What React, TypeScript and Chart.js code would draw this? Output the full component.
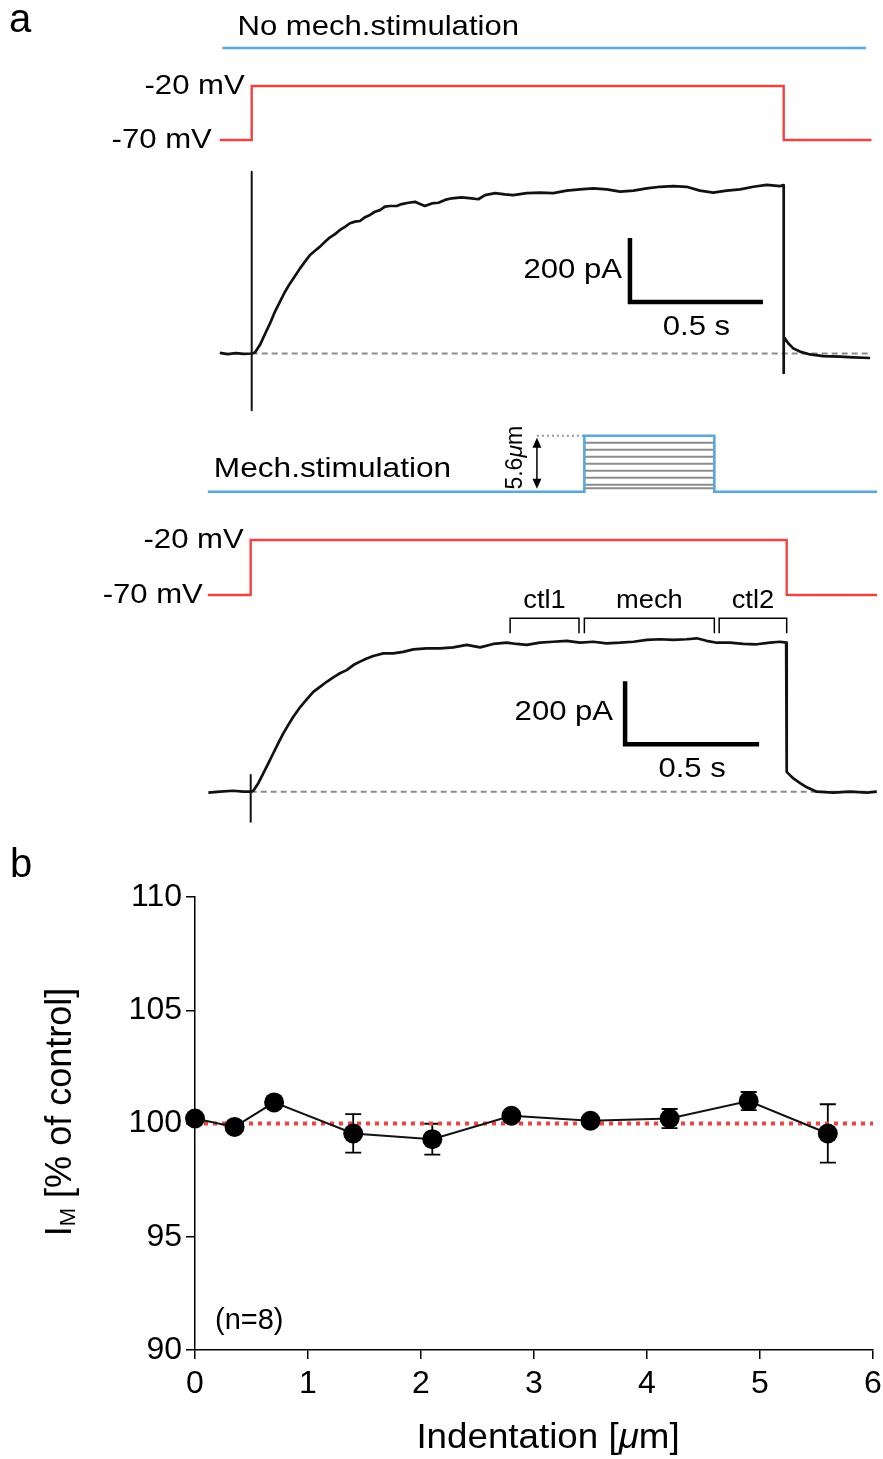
import React, { useEffect, useRef } from 'react';
import { Chart, registerables } from 'chart.js';

Chart.register(...registerables);

const FONT = '"Liberation Sans", Arial, Helvetica, sans-serif';
const BLACK = '#111111';
const RED = '#f0433f';
const BLUE = '#5aa6df';
const GRAY = '#8c8c8c';

// ---------- Panel a, top: no mechanical stimulation ----------
const topStimTime = [-0.11, 2.31];
const topStimValue = [0, 0];
const topVoltTime = [-0.12, 0, 0, 2.0, 2.0, 2.33];
const topVoltValue = [-70, -70, -20, -20, -70, -70];
const topCurTime = [-0.12, -0.09, -0.06, -0.03, 0, 0.0124, 0.0312, 0.05, 0.0688, 0.0876, 0.1064, 0.1252, 0.144, 0.1628, 0.1816, 0.2004, 0.2192, 0.238, 0.2568, 0.2756, 0.2944, 0.3132, 0.332, 0.3508, 0.3695, 0.3883, 0.4071, 0.4259, 0.4447, 0.4635, 0.4823, 0.5011, 0.52, 0.545, 0.564, 0.589, 0.614, 0.633, 0.651, 0.677, 0.702, 0.727, 0.752, 0.789, 0.827, 0.852, 0.877, 0.915, 0.952, 0.983, 1.034, 1.084, 1.134, 1.184, 1.234, 1.284, 1.335, 1.385, 1.435, 1.485, 1.535, 1.585, 1.635, 1.685, 1.735, 1.786, 1.836, 1.886, 1.936, 1.986, 2.0, 2.0, 2.0, 2.017, 2.036, 2.061, 2.099, 2.149, 2.212, 2.262, 2.325];
const topCurValue = [2, -2, 1, -1, 0, 3, 27, 61, 94, 131, 162, 193, 219, 242, 266, 287, 308, 321, 334, 349, 363, 373, 386, 396, 407, 412, 414, 426, 433, 443, 448, 459, 461, 461, 467, 471, 474, 467, 461, 469, 471, 480, 485, 488, 485, 482, 495, 501, 497, 495, 501, 503, 501, 509, 513, 516, 513, 506, 509, 516, 521, 523, 521, 509, 503, 509, 513, 521, 527, 523, 526, -61, 52, 32, 16, 6, -3, -8, -10, -12, -14];
const topTransientTime = [0, 0];
const topTransientValue = [568, -177];
const topBaselineTime = [0, 2.325];

// ---------- Panel a, bottom: mechanical stimulation ----------
const indentation = [0, 0.35, 0.7, 1.4, 2.1, 2.8, 3.5, 4.2, 4.9, 5.6];
const mechOn = 1.245;
const mechOff = 1.73;
const mechMax = 5.6;
const botStimTime = [-0.16, mechOn, mechOn, mechOff, mechOff, 2.337];
const botStimValue = [0, 0, mechMax, mechMax, 0, 0];
const botVoltTime = [-0.16, 0, 0, 2.0, 2.0, 2.337];
const botVoltValue = [-70, -70, -20, -20, -70, -70];
const botCurTime = [-0.158, -0.115, -0.065, -0.028, 0, 0.0097, 0.0284, 0.047, 0.0657, 0.0843, 0.103, 0.1217, 0.1403, 0.159, 0.184, 0.209, 0.2336, 0.2586, 0.2836, 0.3082, 0.333, 0.358, 0.383, 0.408, 0.433, 0.4575, 0.495, 0.532, 0.569, 0.607, 0.657, 0.706, 0.756, 0.806, 0.856, 0.905, 0.955, 0.9925, 1.03, 1.079, 1.129, 1.179, 1.229, 1.278, 1.328, 1.378, 1.428, 1.478, 1.528, 1.577, 1.627, 1.664, 1.701, 1.739, 1.788, 1.838, 1.888, 1.938, 1.975, 1.998, 2.0, 2.025, 2.05, 2.075, 2.112, 2.174, 2.236, 2.299, 2.336];
const botCurValue = [-3, 0, 3, 0, 0, 3, 27, 58, 90, 122, 154, 185, 212, 238, 268, 293, 317, 333, 349, 363, 376, 386, 402, 413, 423, 431, 439, 439, 444, 452, 455, 455, 458, 466, 458, 469, 473, 469, 466, 473, 476, 479, 473, 476, 471, 473, 476, 482, 484, 482, 484, 487, 479, 473, 473, 469, 468, 473, 476, 473, 63, 42, 27, 14, 0, -3, 0, -3, 0];
const botTransientTime = [0, 0];
const botTransientValue = [53, -95];
const botBaselineTime = [0, 2.337];
const bracketLabels = ['ctl1', 'mech', 'ctl2'];
const bracketStart = [0.968, 1.245, 1.748];
const bracketEnd = [1.225, 1.73, 2.0];

// scale bars
const scaleBarTime = 0.5; // s
const scaleBarCurrent = 200; // pA

// ---------- Panel b ----------
const currentPct = [100.22, 99.85, 100.93, 99.56, 99.31, 100.34, 100.12, 100.22, 100.99, 99.56];
const semPct = [0.2, 0.15, 0.2, 0.85, 0.68, 0.2, 0.15, 0.42, 0.4, 1.29];
const yTicks = [90, 95, 100, 105, 110];
const xTicks = [0, 1, 2, 3, 4, 5, 6];
const controlLevel = 100;

// ---------- layout (pixels) ----------
const TOP = { top: 0, height: 420, t0px: 251.7, pxPerS: 266, sZero: 48, pxPerUm: 10, vRef: 86, pxPerMv: 1.08, iZero: 353.5, pxPerPa: 0.32, barT: 1.422, barI: 161 };
const BOT = { top: 410, height: 430, t0px: 250.7, pxPerS: 268, sZero: 81.7, pxPerUm: 10, vRef: 130, pxPerMv: 1.1, iZero: 381.7, pxPerPa: 0.315, barT: 1.397, barI: 151 };
const W = 883;

function pts(xs: number[], ys: number[]) {
  return xs.map((x, i) => ({ x, y: ys[i] }));
}

function yRange(zeroPx: number, zeroVal: number, pxPerUnit: number, height: number) {
  return { min: zeroVal - (height - zeroPx) / pxPerUnit, max: zeroVal + zeroPx / pxPerUnit };
}

type Run = { s: string; size: number; italic?: boolean; dy?: number };

function drawRuns(ctx: CanvasRenderingContext2D, runs: Run[], x: number, y: number, opt: { align?: string; baseline?: CanvasTextBaseline; sx?: number; rotate?: number; color?: string } = {}) {
  const { align = 'left', baseline = 'alphabetic', sx = 1, rotate = 0, color = '#000' } = opt;
  ctx.save();
  ctx.translate(x, y);
  if (rotate) ctx.rotate(rotate);
  ctx.scale(sx, 1);
  ctx.fillStyle = color;
  ctx.textBaseline = baseline;
  ctx.textAlign = 'left';
  let total = 0;
  const widths = runs.map((r) => {
    ctx.font = `${r.italic ? 'italic ' : ''}${r.size}px ${FONT}`;
    const w = ctx.measureText(r.s).width;
    total += w;
    return w;
  });
  let cx = align === 'center' ? -total / 2 : align === 'right' ? -total : 0;
  runs.forEach((r, i) => {
    ctx.font = `${r.italic ? 'italic ' : ''}${r.size}px ${FONT}`;
    ctx.fillText(r.s, cx, r.dy || 0);
    cx += widths[i];
  });
  ctx.restore();
}

function txt(ctx: CanvasRenderingContext2D, s: string, x: number, y: number, size: number, opt: any = {}) {
  drawRuns(ctx, [{ s, size, italic: opt.italic }], x, y, opt);
}

function lineDs(data: any[], yAxisID: string, color: string, width: number, extra: any = {}) {
  return {
    data,
    yAxisID,
    showLine: true,
    borderColor: color,
    borderWidth: width,
    pointRadius: 0,
    fill: false,
    tension: 0,
    clip: false,
    borderJoinStyle: 'round',
    ...extra,
  };
}

function traceScales(L: any) {
  return {
    x: { type: 'linear', display: false, min: -L.t0px / L.pxPerS, max: (W - L.t0px) / L.pxPerS },
    yS: { type: 'linear', display: false, ...yRange(L.sZero, 0, L.pxPerUm, L.height) },
    yV: { type: 'linear', display: false, ...yRange(L.vRef, -20, L.pxPerMv, L.height) },
    yI: { type: 'linear', display: false, ...yRange(L.iZero, 0, L.pxPerPa, L.height) },
  };
}

const PA = 28; // panel a text size
const PA_SX = 1.11;

function scaleBarDs(L: any) {
  return lineDs(
    pts([L.barT, L.barT, L.barT + scaleBarTime], [L.barI + scaleBarCurrent, L.barI, L.barI]),
    'yI', '#000', 4.5, { borderJoinStyle: 'miter', borderCapStyle: 'butt', order: 0 }
  );
}

function drawScaleBarText(ctx: CanvasRenderingContext2D, chart: any, L: any, dxText: number) {
  const x = chart.scales.x, yI = chart.scales.yI;
  txt(ctx, `${scaleBarCurrent} pA`, x.getPixelForValue(L.barT) + dxText, yI.getPixelForValue(L.barI + scaleBarCurrent / 2), PA, { align: 'right', baseline: 'middle', sx: PA_SX });
  txt(ctx, `${scaleBarTime} s`, x.getPixelForValue(L.barT + scaleBarTime / 2), yI.getPixelForValue(L.barI) + 25, PA, { align: 'center', baseline: 'middle', sx: PA_SX });
}

function makeTopConfig() {
  return {
    type: 'scatter',
    data: {
      datasets: [
        lineDs(pts(topCurTime, topCurValue), 'yI', BLACK, 2.7, { order: 1 }),
        lineDs(pts(topTransientTime, topTransientValue), 'yI', BLACK, 2, { order: 2 }),
        scaleBarDs(TOP),
        lineDs(pts(topBaselineTime, [0, 0]), 'yI', GRAY, 2, { borderDash: [6, 4], order: 5 }),
        lineDs(pts(topVoltTime, topVoltValue), 'yV', RED, 2.4, { borderJoinStyle: 'miter', order: 3 }),
        lineDs(pts(topStimTime, topStimValue), 'yS', BLUE, 2.6, { order: 3 }),
      ],
    },
    options: {
      animation: false,
      responsive: false,
      events: [],
      layout: { padding: 0 },
      plugins: { legend: { display: false }, tooltip: { enabled: false } },
      scales: traceScales(TOP),
    },
    plugins: [
      {
        id: 'topText',
        afterDraw(chart: any) {
          const ctx = chart.ctx;
          const x = chart.scales.x, yV = chart.scales.yV, yS = chart.scales.yS;
          txt(ctx, 'a', 9, 32, 40);
          txt(ctx, 'No mech.stimulation', x.getPixelForValue(topStimTime[0]) + 15, yS.getPixelForValue(0) - 13, PA, { sx: PA_SX });
          txt(ctx, '-20 mV', x.getPixelForValue(0) - 7, yV.getPixelForValue(-20), PA, { align: 'right', baseline: 'middle', sx: PA_SX });
          txt(ctx, '-70 mV', x.getPixelForValue(topVoltTime[0]) - 8, yV.getPixelForValue(-70), PA, { align: 'right', baseline: 'middle', sx: PA_SX });
          drawScaleBarText(ctx, chart, TOP, -8);
        },
      },
    ],
  };
}

function makeBotConfig() {
  const grayLevels = indentation.filter((a) => a > 0 && a < mechMax);
  const grayDs = grayLevels.map((a) => lineDs(pts([mechOn, mechOff], [a, a]), 'yS', GRAY, 2, { order: 4 }));
  return {
    type: 'scatter',
    data: {
      datasets: [
        lineDs(pts(botCurTime, botCurValue), 'yI', BLACK, 2.7, { order: 1 }),
        lineDs(pts(botTransientTime, botTransientValue), 'yI', BLACK, 2, { order: 2 }),
        scaleBarDs(BOT),
        lineDs(pts(botBaselineTime, [0, 0]), 'yI', GRAY, 2, { borderDash: [6, 4], order: 5 }),
        lineDs(pts(botVoltTime, botVoltValue), 'yV', RED, 2.4, { borderJoinStyle: 'miter', order: 3 }),
        lineDs(pts(botStimTime, botStimValue), 'yS', BLUE, 2.6, { borderJoinStyle: 'miter', order: 3 }),
        lineDs(pts([1.068, mechOn], [mechMax, mechMax]), 'yS', '#999999', 2, { borderDash: [2, 3], order: 4 }),
        ...grayDs,
      ],
    },
    options: {
      animation: false,
      responsive: false,
      events: [],
      layout: { padding: 0 },
      plugins: { legend: { display: false }, tooltip: { enabled: false } },
      scales: traceScales(BOT),
    },
    plugins: [
      {
        id: 'botText',
        afterDraw(chart: any) {
          const ctx = chart.ctx;
          const x = chart.scales.x, yV = chart.scales.yV, yS = chart.scales.yS, yI = chart.scales.yI;
          txt(ctx, 'Mech.stimulation', x.getPixelForValue(botStimTime[0]) + 6, yS.getPixelForValue(0) - 15, PA, { sx: 1.13 });
          txt(ctx, '-20 mV', x.getPixelForValue(0) - 7, yV.getPixelForValue(-20), PA, { align: 'right', baseline: 'middle', sx: PA_SX });
          txt(ctx, '-70 mV', x.getPixelForValue(botVoltTime[0]) - 5, yV.getPixelForValue(-70), PA, { align: 'right', baseline: 'middle', sx: PA_SX });
          drawScaleBarText(ctx, chart, BOT, -12);

          // double arrow showing max indentation
          const ax = x.getPixelForValue(1.068);
          const aTop = yS.getPixelForValue(mechMax) + 2;
          const aBot = yS.getPixelForValue(0) - 3;
          ctx.save();
          ctx.strokeStyle = '#000';
          ctx.fillStyle = '#000';
          ctx.lineWidth = 1.5;
          ctx.beginPath();
          ctx.moveTo(ax, aTop + 6);
          ctx.lineTo(ax, aBot - 6);
          ctx.stroke();
          ctx.beginPath();
          ctx.moveTo(ax, aTop);
          ctx.lineTo(ax - 4.5, aTop + 10);
          ctx.lineTo(ax + 4.5, aTop + 10);
          ctx.closePath();
          ctx.fill();
          ctx.beginPath();
          ctx.moveTo(ax, aBot);
          ctx.lineTo(ax - 4.5, aBot - 10);
          ctx.lineTo(ax + 4.5, aBot - 10);
          ctx.closePath();
          ctx.fill();
          ctx.restore();
          drawRuns(
            ctx,
            [
              { s: `${mechMax}`, size: 23 },
              { s: 'μ', size: 23, italic: true },
              { s: 'm', size: 23 },
            ],
            ax - 21,
            (yS.getPixelForValue(0) + yS.getPixelForValue(mechMax)) / 2 - 6,
            { align: 'center', baseline: 'middle', rotate: -Math.PI / 2 }
          );

          // analysis window brackets
          const bTop = yI.getPixelForValue(551);
          const bBot = yI.getPixelForValue(503);
          ctx.save();
          ctx.strokeStyle = '#000';
          ctx.lineWidth = 1.5;
          bracketLabels.forEach((lab, i) => {
            const x1 = x.getPixelForValue(bracketStart[i]);
            const x2 = x.getPixelForValue(bracketEnd[i]);
            ctx.beginPath();
            ctx.moveTo(x1, bBot);
            ctx.lineTo(x1, bTop);
            ctx.lineTo(x2, bTop);
            ctx.lineTo(x2, bBot);
            ctx.stroke();
            txt(ctx, lab, (x1 + x2) / 2, yI.getPixelForValue(605), 26, { align: 'center', baseline: 'middle', sx: 1.05 });
          });
          ctx.restore();
        },
      },
    ],
  };
}

function makePanelBConfig() {
  const axisCommon = {
    type: 'linear',
    grid: { drawOnChartArea: false, drawTicks: true, tickLength: 9, color: '#000', lineWidth: 1.5 },
    border: { display: true, color: '#000', width: 1.5 },
  };
  return {
    type: 'scatter',
    data: {
      datasets: [
        {
          data: pts(indentation, currentPct),
          showLine: true,
          borderColor: BLACK,
          borderWidth: 2,
          pointRadius: 10,
          pointBackgroundColor: '#000',
          pointBorderColor: '#000',
          pointBorderWidth: 0,
          clip: false,
          order: 0,
        },
        {
          data: pts([xTicks[0], xTicks[xTicks.length - 1]], [controlLevel, controlLevel]),
          showLine: true,
          borderColor: RED,
          borderWidth: 4,
          borderDash: [4, 5],
          pointRadius: 0,
          clip: false,
          order: 1,
        },
      ],
    },
    options: {
      animation: false,
      responsive: false,
      events: [],
      layout: { padding: { top: 57, right: 10, left: 0, bottom: 0 } },
      plugins: { legend: { display: false }, tooltip: { enabled: false } },
      scales: {
        x: {
          ...axisCommon,
          min: xTicks[0],
          max: xTicks[xTicks.length - 1],
          afterBuildTicks: (s: any) => {
            s.ticks = xTicks.map((v) => ({ value: v }));
          },
          afterFit: (s: any) => {
            s.height = 109;
            s.paddingLeft = 0;
            s.paddingRight = 0;
          },
          ticks: { color: '#000', font: { family: FONT, size: 32 }, padding: 6, maxRotation: 0, autoSkip: false },
        },
        y: {
          ...axisCommon,
          min: yTicks[0],
          max: yTicks[yTicks.length - 1],
          afterBuildTicks: (s: any) => {
            s.ticks = yTicks.map((v) => ({ value: v }));
          },
          afterFit: (s: any) => {
            s.width = 195;
          },
          ticks: { color: '#000', font: { family: FONT, size: 32 }, padding: 4, autoSkip: false },
        },
      },
    },
    plugins: [
      {
        id: 'errorBars',
        beforeDatasetsDraw(chart: any) {
          const { ctx } = chart;
          const x = chart.scales.x, y = chart.scales.y;
          ctx.save();
          ctx.strokeStyle = '#000';
          ctx.lineWidth = 1.8;
          indentation.forEach((v, i) => {
            const px = x.getPixelForValue(v);
            const hi = y.getPixelForValue(currentPct[i] + semPct[i]);
            const lo = y.getPixelForValue(currentPct[i] - semPct[i]);
            ctx.beginPath();
            ctx.moveTo(px, hi);
            ctx.lineTo(px, lo);
            ctx.moveTo(px - 8, hi);
            ctx.lineTo(px + 8, hi);
            ctx.moveTo(px - 8, lo);
            ctx.lineTo(px + 8, lo);
            ctx.stroke();
          });
          ctx.restore();
        },
        afterDraw(chart: any) {
          const { ctx } = chart;
          const x = chart.scales.x, y = chart.scales.y;
          txt(ctx, 'b', 10, 37, 40);
          txt(ctx, '(n=8)', x.getPixelForValue(0) + 20, y.getPixelForValue(yTicks[0]) - 29, 29, { baseline: 'middle' });
          drawRuns(
            ctx,
            [
              { s: 'Indentation [', size: 35 },
              { s: 'μ', size: 35, italic: true },
              { s: 'm]', size: 35 },
            ],
            548,
            598,
            { align: 'center', baseline: 'middle', sx: 1.05 }
          );
          drawRuns(
            ctx,
            [
              { s: 'I', size: 36 },
              { s: 'M', size: 22, dy: 8 },
              { s: ' [% of control]', size: 36 },
            ],
            61,
            272,
            { align: 'center', baseline: 'middle', rotate: -Math.PI / 2 }
          );
        },
      },
    ],
  };
}

function ChartCanvas({ top, height, make }: { top: number; height: number; make: () => any }) {
  const ref = useRef<HTMLCanvasElement | null>(null);
  useEffect(() => {
    if (!ref.current) return;
    const chart = new Chart(ref.current, make());
    return () => chart.destroy();
  }, []);
  return (
    <canvas
      ref={ref}
      width={W}
      height={height}
      style={{ position: 'absolute', left: 0, top, width: W, height, display: 'block' }}
    />
  );
}

export default function App() {
  return (
    <div style={{ position: 'absolute', left: 0, top: 0, width: W, height: 1459, background: '#fff', overflow: 'hidden' }}>
      <ChartCanvas top={TOP.top} height={TOP.height} make={makeTopConfig} />
      <ChartCanvas top={BOT.top} height={BOT.height} make={makeBotConfig} />
      <ChartCanvas top={840} height={619} make={makePanelBConfig} />
    </div>
  );
}
